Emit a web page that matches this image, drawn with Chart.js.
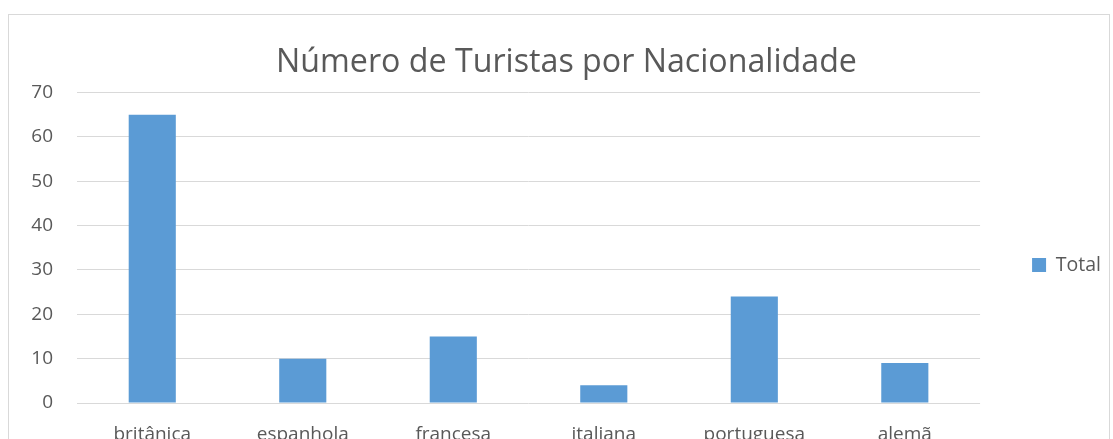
<!DOCTYPE html>
<html>
<head>
<meta charset="utf-8">
<script src="https://cdn.jsdelivr.net/npm/chart.js@4.4.1/dist/chart.umd.min.js"></script>
<style>
    html, body { margin: 0; padding: 0; background: #fff; overflow: hidden; }
    #wrap { position: relative; width: 1113px; height: 439px; overflow: hidden; }
    #frame { position: absolute; left: 8px; top: 14px; width: 1102px; height: 600px; border: 1px solid #d9d9d9; box-sizing: border-box; }
    #box { position: absolute; left: 0; top: 0; width: 1113px; height: 486px; }
</style>
</head>
<body>
<div id="wrap">
    <div id="frame"></div>
    <div id="box"><canvas id="chart"></canvas></div>
</div>
<script>
const categories = ['britânica', 'espanhola', 'francesa', 'italiana', 'portuguesa', 'alemã'];
const totals = [65, 10, 15, 4, 24, 9];
const seriesName = 'Total';
const chartTitle = 'Número de Turistas por Nacionalidade';

const FONT = "'Open Sans', sans-serif";
const GREY = '#595959';

new Chart(document.getElementById('chart'), {
    type: 'bar',
    data: {
        labels: categories,
        datasets: [{
            label: seriesName,
            data: totals,
            backgroundColor: '#5b9bd5',
            barPercentage: 0.313,
            categoryPercentage: 1
        }]
    },
    options: {
        responsive: true,
        maintainAspectRatio: false,
        animation: false,
        // left padding pushes the title centre right; y axis width compensates
        layout: { padding: { top: 44, left: 22, right: 2, bottom: 0 } },
        plugins: {
            title: {
                display: true,
                text: chartTitle,
                color: GREY,
                font: { family: FONT, size: 32.2, weight: 'normal' },
                padding: { top: 0, bottom: 10 }
            },
            legend: {
                position: 'right',
                labels: {
                    color: GREY,
                    font: { family: FONT, size: 19.5 },
                    boxWidth: 14,
                    boxHeight: 14,
                    padding: 52
                }
            },
            tooltip: { enabled: false }
        },
        scales: {
            x: {
                grid: { display: false, drawTicks: false },
                border: { display: false },
                ticks: { color: GREY, font: { family: FONT, size: 19 }, padding: 20 },
                afterFit: (scale) => { scale.height = 83; }
            },
            y: {
                min: 0,
                max: 70,
                ticks: { stepSize: 10, color: GREY, font: { family: FONT, size: 19 }, padding: 24 },
                grid: { color: '#d9d9d9', lineWidth: 1, drawTicks: false },
                border: { display: false },
                afterFit: (scale) => { scale.width = 55; }
            }
        }
    }
});
</script>
</body>
</html>
